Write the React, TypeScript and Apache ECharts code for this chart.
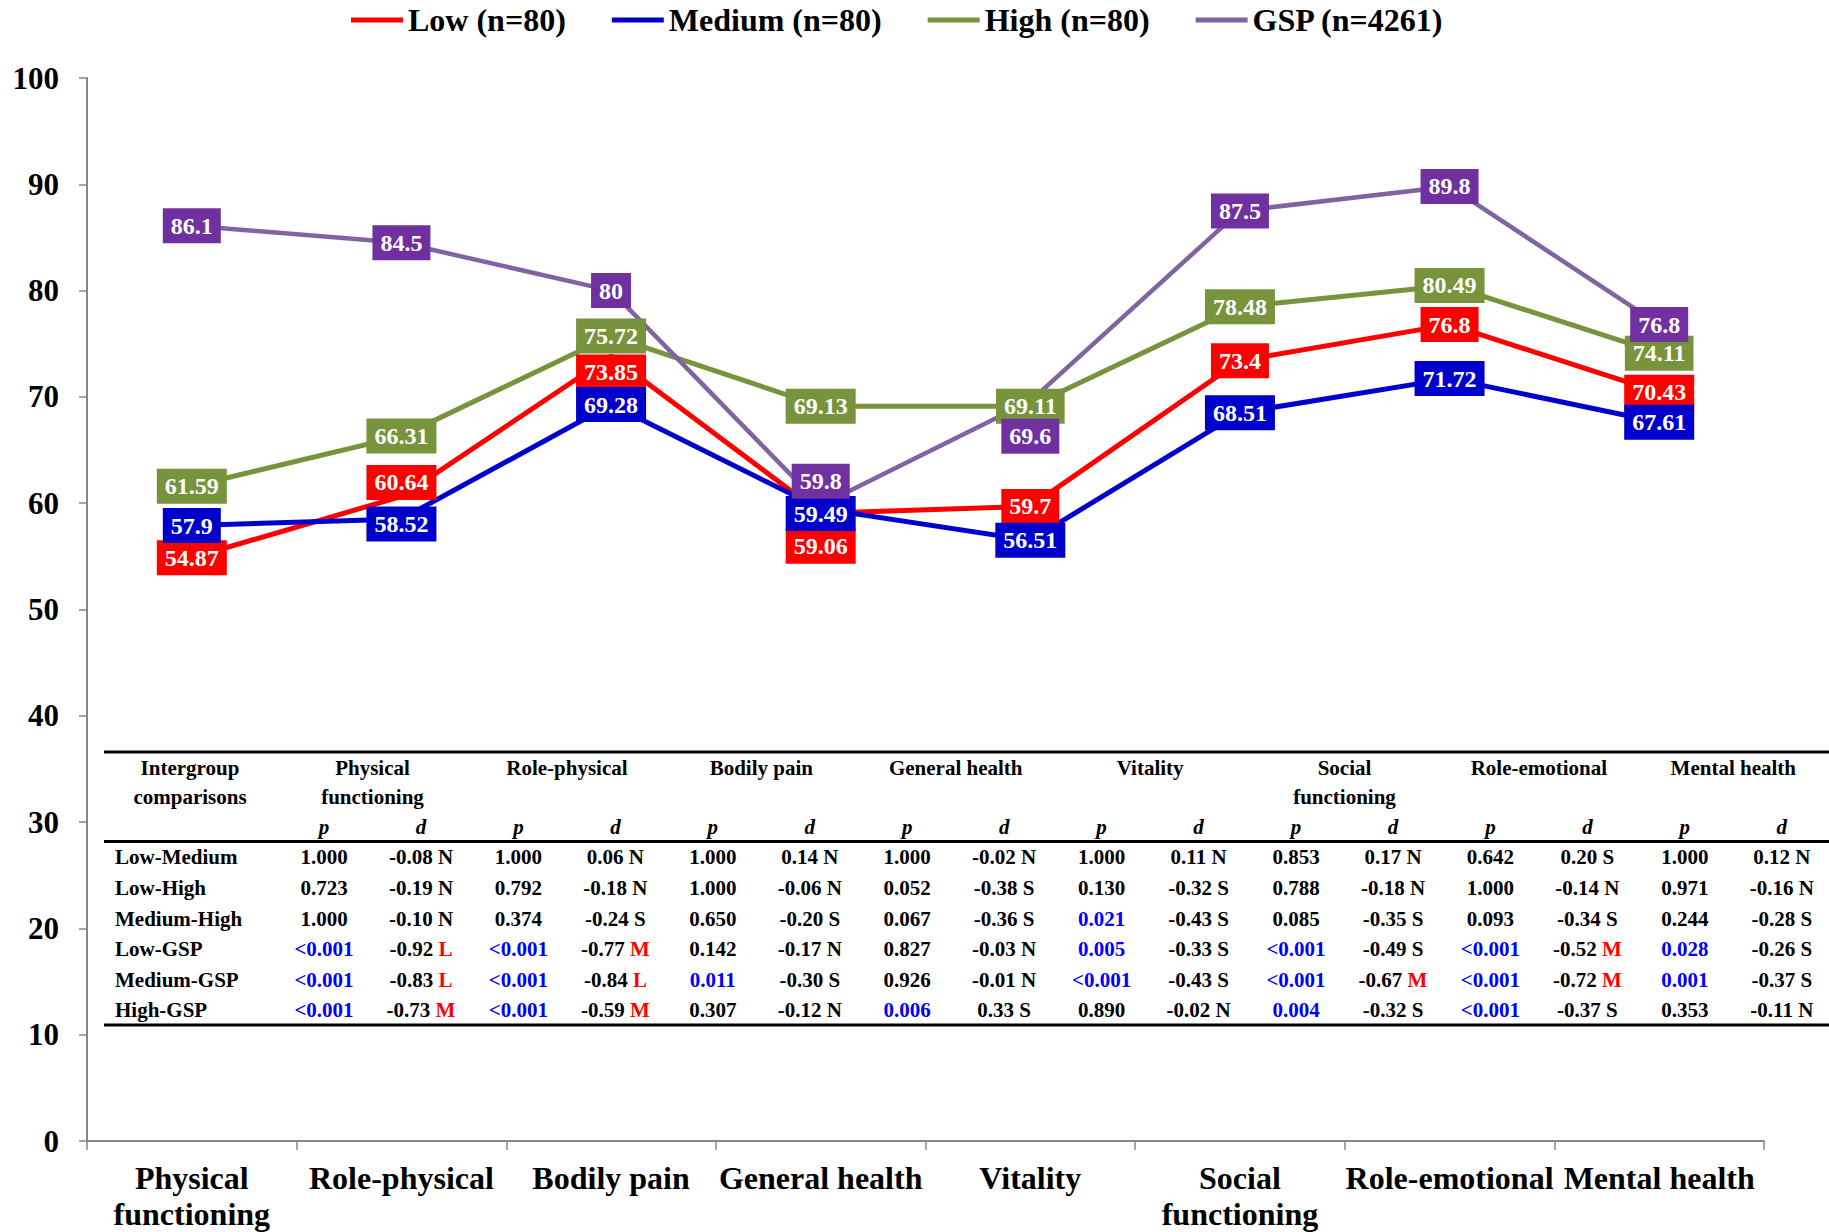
import React, { useEffect, useRef } from 'react';
import * as echarts from 'echarts';

const FONT = "'Liberation Serif', 'Times New Roman', serif";

// ---- chart data ----
const categories = [
  'Physical\nfunctioning',
  'Role-physical',
  'Bodily pain',
  'General health',
  'Vitality',
  'Social\nfunctioning',
  'Role-emotional',
  'Mental health',
];
const seriesNames = ['Low (n=80)', 'Medium (n=80)', 'High (n=80)', 'GSP (n=4261)'];
const lowValues = [54.87, 60.64, 73.85, 59.06, 59.7, 73.4, 76.8, 70.43];
const mediumValues = [57.9, 58.52, 69.28, 59.49, 56.51, 68.51, 71.72, 67.61];
const highValues = [61.59, 66.31, 75.72, 69.13, 69.11, 78.48, 80.49, 74.11];
const gspValues = [86.1, 84.5, 80, 59.8, 69.6, 87.5, 89.8, 76.8];
const yMin = 0;
const yMax = 100;
const yInterval = 10;

// ---- table data ----
const comparisons = ['Low-Medium', 'Low-High', 'Medium-High', 'Low-GSP', 'Medium-GSP', 'High-GSP'];
const pTable = [
  ['1.000', '1.000', '1.000', '1.000', '1.000', '0.853', '0.642', '1.000'],
  ['0.723', '0.792', '1.000', '0.052', '0.130', '0.788', '1.000', '0.971'],
  ['1.000', '0.374', '0.650', '0.067', '0.021', '0.085', '0.093', '0.244'],
  ['<0.001', '<0.001', '0.142', '0.827', '0.005', '<0.001', '<0.001', '0.028'],
  ['<0.001', '<0.001', '0.011', '0.926', '<0.001', '<0.001', '<0.001', '0.001'],
  ['<0.001', '<0.001', '0.307', '0.006', '0.890', '0.004', '<0.001', '0.353'],
];
const dTable = [
  ['-0.08 N', '0.06 N', '0.14 N', '-0.02 N', '0.11 N', '0.17 N', '0.20 S', '0.12 N'],
  ['-0.19 N', '-0.18 N', '-0.06 N', '-0.38 S', '-0.32 S', '-0.18 N', '-0.14 N', '-0.16 N'],
  ['-0.10 N', '-0.24 S', '-0.20 S', '-0.36 S', '-0.43 S', '-0.35 S', '-0.34 S', '-0.28 S'],
  ['-0.92 L', '-0.77 M', '-0.17 N', '-0.03 N', '-0.33 S', '-0.49 S', '-0.52 M', '-0.26 S'],
  ['-0.83 L', '-0.84 L', '-0.30 S', '-0.01 N', '-0.43 S', '-0.67 M', '-0.72 M', '-0.37 S'],
  ['-0.73 M', '-0.59 M', '-0.12 N', '0.33 S', '-0.02 N', '-0.32 S', '-0.37 S', '-0.11 N'],
];

// ---- styling ----
const lineColors = ['#FF0000', '#0000CC', '#77933C', '#8064A2'];
const boxColors = ['#FF0000', '#0000CC', '#77933C', '#7030A0'];
const lineWidths = [5, 5, 5, 4.5];
// vertical label shifts (px) to avoid overlapping boxes, as in the reference
const labelShifts = [
  [0, -14, 16, 33, 0, 0, 0, 0],
  [0, 5, 0, 5, 0, 0, 0, 0],
  [0, 0, 0, 0, 0, 0, 0, 0],
  [0, 0, 0, -24, 35, 0, 0, 0],
];

function buildTable(): any[] {
  const els: any[] = [];
  const pX0 = 324;
  const pitch = 194.4;
  const dOff = 97;
  const lineLeft = 104;
  const lineRight = 1829;
  const rowY0 = 857.3;
  const rowStep = 30.6;
  const fs = 21;
  const font = `bold ${fs}px ${FONT}`;
  const italic = `italic bold ${fs}px ${FONT}`;

  const hline = (y: number) => ({
    type: 'line',
    shape: { x1: lineLeft, y1: y, x2: lineRight, y2: y },
    style: { stroke: '#000', lineWidth: 3 },
    silent: true,
  });
  els.push(hline(752));
  els.push(hline(841.5));
  els.push(hline(1025));

  const text = (x: number, y: number, t: string, opts: any = {}) => ({
    type: 'text',
    x,
    y,
    silent: true,
    style: {
      text: t,
      font: opts.font || font,
      fill: opts.fill || '#000',
      align: opts.align || 'center',
      verticalAlign: opts.verticalAlign || 'middle',
      lineHeight: 29,
      ...(opts.rich ? { rich: opts.rich } : {}),
    },
  });

  // header
  els.push(text(190, 753.5, 'Intergroup\ncomparisons', { verticalAlign: 'top' }));
  categories.forEach((c, j) => {
    const px = pX0 + j * pitch;
    els.push(text(px + dOff / 2, 753.5, c, { verticalAlign: 'top' }));
    els.push(text(px, 827, 'p', { font: italic }));
    els.push(text(px + dOff, 827, 'd', { font: italic }));
  });

  const richBase = { fontSize: fs, fontWeight: 'bold', fontFamily: FONT };
  comparisons.forEach((name, i) => {
    const y = rowY0 + i * rowStep;
    els.push(text(115, y, name, { align: 'left' }));
    categories.forEach((_, j) => {
      const px = pX0 + j * pitch;
      const p = pTable[i][j];
      const sig = p.startsWith('<') || parseFloat(p) < 0.05;
      els.push(text(px, y, p, { fill: sig ? '#0000FF' : '#000' }));
      const d = dTable[i][j];
      const parts = d.split(' ');
      const big = parts[1] === 'M' || parts[1] === 'L';
      els.push(
        text(px + dOff, y, `{n|${parts[0]} }{m|${parts[1]}}`, {
          rich: {
            n: { ...richBase, fill: '#000' },
            m: { ...richBase, fill: big ? '#FF0000' : '#000' },
          },
        })
      );
    });
  });
  return els;
}

function buildOption(): any {
  const allValues = [lowValues, mediumValues, highValues, gspValues];
  const lineSeries = allValues.map((vals, s) => ({
    type: 'line',
    name: seriesNames[s],
    data: vals,
    symbol: 'none',
    silent: true,
    z: 2,
    color: lineColors[s],
    lineStyle: { color: lineColors[s], width: lineWidths[s] },
    itemStyle: { color: lineColors[s] },
  }));
  const labelSeries = allValues.map((vals, s) => ({
    type: 'scatter',
    name: seriesNames[s] + ' label',
    data: vals.map((v, i) => ({
      value: [i, v],
      label: { offset: [0, labelShifts[s][i]] },
    })),
    symbol: 'rect',
    symbolSize: 1,
    silent: true,
    z: 5,
    itemStyle: { color: boxColors[s], opacity: 1 },
    label: {
      show: true,
      position: 'inside',
      formatter: (p: any) => String(Array.isArray(p.value) ? p.value[1] : p.value),
      color: '#fff',
      fontFamily: FONT,
      fontSize: 24,
      fontWeight: 'bold',
      backgroundColor: boxColors[s],
      opacity: 1,
      padding: [6, 8, 5, 8],
    },
  }));

  return {
    animation: false,
    backgroundColor: '#fff',
    textStyle: { fontFamily: FONT },
    legend: {
      data: seriesNames,
      left: 351,
      top: 4,
      padding: 0,
      icon: 'rect',
      itemWidth: 52,
      itemHeight: 5,
      itemGap: 46,
      selectedMode: false,
      textStyle: { fontFamily: FONT, fontSize: 32, fontWeight: 'bold', color: '#000' },
    },
    grid: { left: 87, right: 65, top: 78, bottom: 91, containLabel: false },
    xAxis: {
      type: 'category',
      data: categories,
      boundaryGap: true,
      axisLine: { show: true, lineStyle: { color: '#868686', width: 2 } },
      axisTick: { show: true, length: 9, lineStyle: { color: '#868686', width: 1.5 } },
      axisLabel: {
        interval: 0,
        margin: 19,
        fontFamily: FONT,
        fontSize: 32,
        fontWeight: 'bold',
        color: '#000',
        lineHeight: 36,
      },
      splitLine: { show: false },
    },
    yAxis: {
      type: 'value',
      min: yMin,
      max: yMax,
      interval: yInterval,
      axisLine: { show: true, lineStyle: { color: '#868686', width: 2 } },
      axisTick: { show: true, length: 8, lineStyle: { color: '#868686', width: 1.5 } },
      axisLabel: {
        margin: 28,
        fontFamily: FONT,
        fontSize: 31,
        fontWeight: 'bold',
        color: '#000',
      },
      splitLine: { show: false },
    },
    series: [...lineSeries, ...labelSeries],
    graphic: { elements: buildTable() },
  };
}

export default function App() {
  const ref = useRef<HTMLDivElement>(null);
  useEffect(() => {
    if (!ref.current) return;
    const chart = echarts.init(ref.current, null, { renderer: 'svg' });
    chart.setOption(buildOption());
    return () => chart.dispose();
  }, []);
  return (
    <div
      ref={ref}
      style={{ position: 'absolute', left: 0, top: 0, width: 1829, height: 1232, background: '#fff' }}
    />
  );
}
